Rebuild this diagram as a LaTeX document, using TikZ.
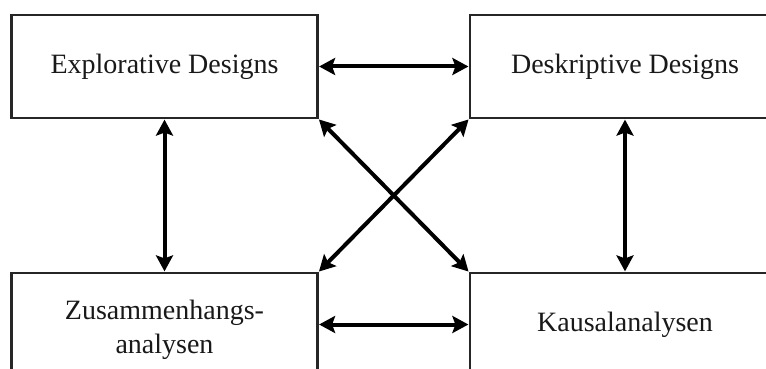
\documentclass[tikz,border=0pt]{standalone}
\usepackage{fontspec}
\setmainfont{Liberation Serif}
\usetikzlibrary{arrows.meta}
\begin{document}
\begin{tikzpicture}[x=1pt,y=-1pt,
  box/.style={draw=black!85,line width=2.2pt,fill=white,minimum width=306pt,minimum height=103pt,
    align=center,inner sep=0pt,font=\fontsize{28}{32}\selectfont,text=black!90},
  link/.style={line width=4pt,{Stealth[length=16pt,width=17pt,inset=3pt]}-{Stealth[length=16pt,width=17pt,inset=3pt]},shorten <=0.5pt,shorten >=0.5pt}]
\useasboundingbox (0,0) rectangle (766,369);
\clip (0,0) rectangle (766,369);
\node[box] (ex) at (164.5,66.5) {Explorative Designs};
\node[box,minimum width=310pt] (de) at (625,66.5) {Deskriptive Designs};
\node[box] (zu) at (164.5,324.5) {\raisebox{0pt}[\dimexpr\height+12pt\relax][\depth]{\begin{tabular}{@{}c@{}}Zusammenhangs-\\[2pt]analysen\end{tabular}}};
\node[box,minimum width=310pt] (ka) at (625,324.5) {Kausalanalysen};
\draw[link] (ex.east) -- (de.west);
\draw[link] (zu.east) -- (ka.west);
\draw[link] (ex.south) -- (zu.north);
\draw[link] (de.south) -- (ka.north);
\draw[link] (ex.south east) -- (ka.north west);
\draw[link] (de.south west) -- (zu.north east);
\end{tikzpicture}
\end{document}
